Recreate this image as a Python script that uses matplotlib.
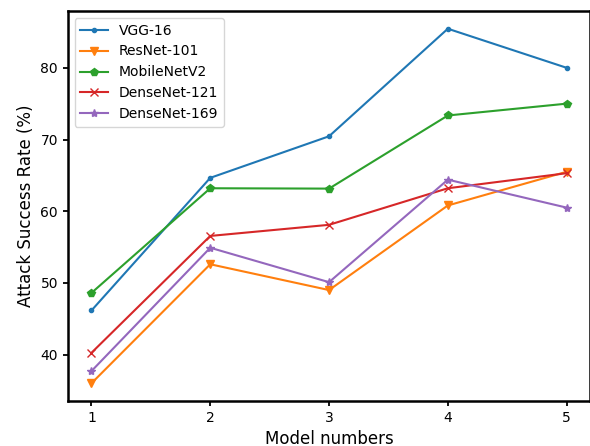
import matplotlib
matplotlib.use("Agg")
import matplotlib.pyplot as plt

models = [1, 2, 3, 4, 5]
vgg16 = [46.15, 64.65, 70.45, 85.45, 80.0]
resnet101 = [36.0, 52.6, 49.0, 60.8, 65.5]
mobilenetv2 = [48.6, 63.2, 63.15, 73.35, 75.0]
densenet121 = [40.25, 56.55, 58.1, 63.2, 65.3]
densenet169 = [37.7, 54.9, 50.1, 64.4, 60.5]

fig = plt.figure(figsize=(5.9, 4.46), dpi=100)
ax = fig.add_axes([67.7/590, 1 - 401/446, (590.4 - 67.7)/590, (401 - 11)/446])
ax.plot(models, vgg16, marker='.', label='VGG-16')
ax.plot(models, resnet101, marker='v', label='ResNet-101')
ax.plot(models, mobilenetv2, marker='p', label='MobileNetV2')
ax.plot(models, densenet121, marker='x', label='DenseNet-121')
ax.plot(models, densenet169, marker='*', label='DenseNet-169')
ax.set_xticks(models)
ax.set_xlabel('Model numbers', fontsize=12)
ax.set_ylabel('Attack Success Rate (%)', fontsize=12)
for s in ax.spines.values():
    s.set_linewidth(1.8)
ax.tick_params(width=1.3)
ax.legend(loc='upper left', fontsize=10)
fig.savefig('out.png', dpi=100)
